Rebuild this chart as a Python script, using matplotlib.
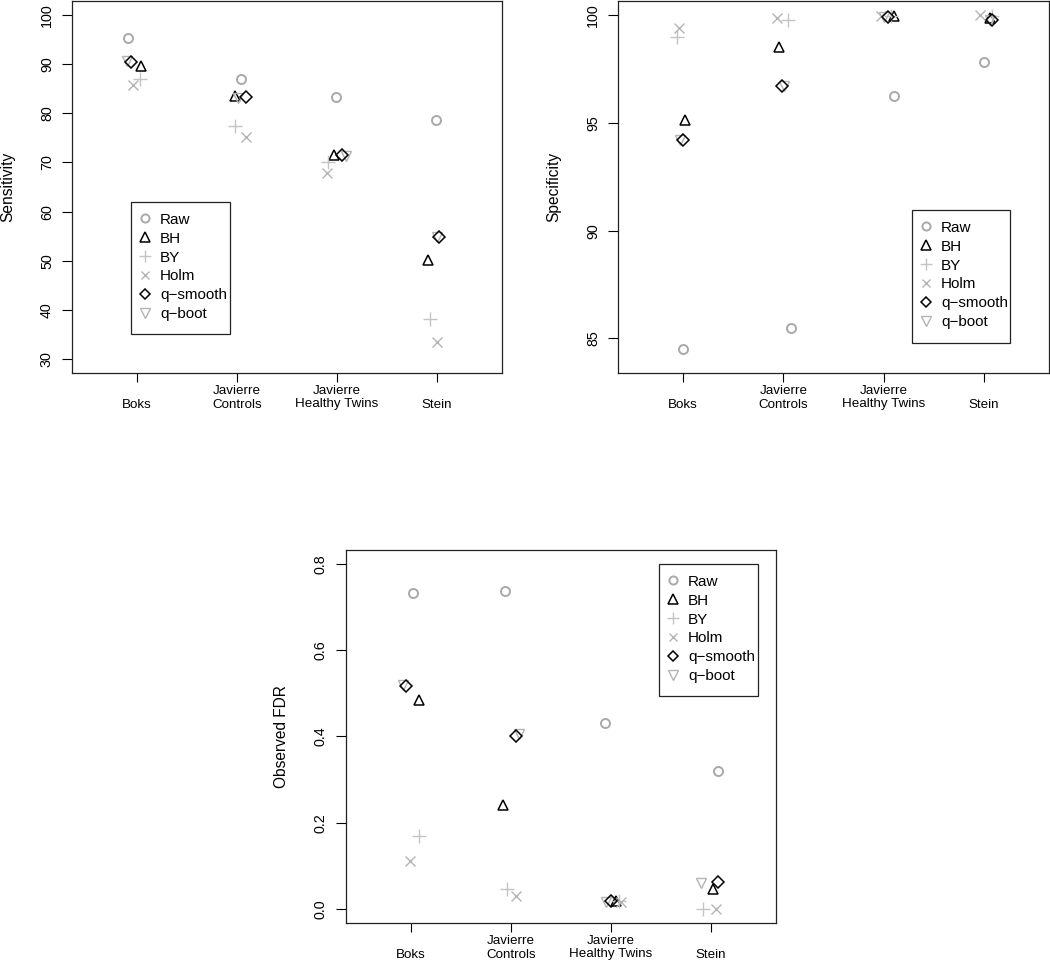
import numpy as np
import matplotlib
matplotlib.use('Agg')
import matplotlib.pyplot as plt
from matplotlib.patches import Rectangle

plt.rcParams['font.family'] = ['Liberation Sans', 'DejaVu Sans']

datasets = ['Boks', 'Javierre\nControls', 'Javierre\nHealthy Twins', 'Stein']
methods = ['Raw', 'BH', 'BY', 'Holm', 'q\u2212smooth', 'q\u2212boot']

# Sensitivity (%)
sens_raw = [95.3, 87.0, 83.3, 78.6]
sens_bh = [89.5, 83.5, 71.6, 50.2]
sens_by = [87.0, 77.4, 70.0, 38.1]
sens_holm = [85.7, 75.1, 67.9, 33.4]
sens_qsmooth = [90.5, 83.3, 71.5, 54.8]
sens_qboot = [90.7, 83.0, 71.3, 54.8]

# Specificity (%)
spec_raw = [84.51, 85.48, 96.26, 97.82]
spec_bh = [95.13, 98.50, 99.97, 99.88]
spec_by = [98.96, 99.78, 99.96, 99.95]
spec_holm = [99.38, 99.86, 99.94, 100.0]
spec_qsmooth = [94.22, 96.69, 99.93, 99.78]
spec_qboot = [94.22, 96.70, 99.93, 99.75]

# Observed FDR
fdr_raw = [0.733, 0.738, 0.431, 0.320]
fdr_bh = [0.484, 0.241, 0.019, 0.047]
fdr_by = [0.170, 0.046, 0.018, 0.000]
fdr_holm = [0.112, 0.031, 0.017, 0.000]
fdr_qsmooth = [0.517, 0.401, 0.018, 0.062]
fdr_qboot = [0.520, 0.405, 0.017, 0.060]

# horizontal jitter of the points (order: Raw, BH, BY, Holm, q-smooth, q-boot)
sens_jitter = [[-0.09, 0.04, -0.01, -0.01], [0.04, -0.02, -0.03, -0.09],
               [0.03, -0.02, -0.09, -0.07], [-0.04, 0.09, -0.10, 0.00],
               [-0.06, 0.09, 0.05, 0.02], [-0.10, 0.01, 0.09, 0.00]]
spec_jitter = [[0.00, 0.08, 0.10, 0.00], [0.02, -0.04, 0.10, 0.06],
               [-0.06, 0.05, 0.07, 0.08], [-0.04, -0.06, -0.03, -0.04],
               [0.00, -0.01, 0.04, 0.08], [-0.03, 0.01, 0.00, 0.06]]
fdr_jitter = [[0.02, -0.06, -0.06, 0.07], [0.08, -0.08, 0.05, 0.02],
              [0.08, -0.04, 0.08, -0.08], [-0.01, 0.05, 0.10, 0.05],
              [-0.05, 0.05, 0.00, 0.07], [-0.08, 0.08, -0.05, -0.10]]

# marker styles for each method
styles = [
    dict(marker='o', color='#a9a9a9', ms=6.5, mew=1.4, mfc='none'),
    dict(marker='^', color='black', ms=7.5, mew=1.1, mfc='none'),
    dict(marker='+', color='#c4c4c4', ms=9.5, mew=1.0),
    dict(marker='x', color='#b4b4b4', ms=7, mew=1.0),
    dict(marker='D', color='black', ms=6, mew=1.1, mfc='none'),
    dict(marker='v', color='#b4b4b4', ms=7.5, mew=1.0, mfc='none'),
]
draw_order = [0, 1, 2, 3, 5, 4]  # q-boot under q-smooth

x = np.arange(1, 5)


def panel(ax, series, jitter, ylim, yticks, ylabel, box_px, yfmt=None):
    # box_px: legend box (left, top, width, height) in pixels from the axes' top-left corner
    handles = [None] * 6
    for i in draw_order:
        h, = ax.plot(x + np.array(jitter[i]), series[i], ls='none', **styles[i])
        handles[i] = h
    ax.set_xlim(0.35, 4.65)
    ax.set_ylim(*ylim)
    ax.set_xticks(x)
    ax.set_xticklabels(datasets, fontsize=9.6)
    for lab in ax.get_xticklabels():
        lab.set_verticalalignment('bottom')
    ax.tick_params(axis='x', length=6.5, pad=20.5, width=0.8)
    ax.set_yticks(yticks)
    if yfmt:
        ax.set_yticklabels([yfmt.format(v) for v in yticks])
    ax.tick_params(axis='y', length=7, pad=6, width=0.8, labelsize=10.3)
    for lab in ax.get_yticklabels():
        lab.set_rotation(90)
        lab.set_verticalalignment('center')
    ax.set_ylabel(ylabel, fontsize=11.2)
    ax.yaxis.set_label_coords(-57 / 430, 0.5)
    for s in ax.spines.values():
        s.set_linewidth(0.9)
        s.set_color('#222222')

    # legend: frame drawn by hand, entries placed inside it
    bb = ax.get_position()
    w_px = bb.width * 1050
    h_px = bb.height * 960
    l, t, w, h = box_px
    ax.add_patch(Rectangle((l / w_px, 1 - (t + h) / h_px), w / w_px, h / h_px,
                           transform=ax.transAxes, fill=False, lw=0.9,
                           ec='#222222', zorder=5))
    ax.legend(handles, methods, loc='upper left',
              bbox_to_anchor=(l / w_px, 1 - (t + 6) / h_px),
              fontsize=11, frameon=False, borderpad=0.31,
              handlelength=1.2, handletextpad=0.4, labelspacing=0.32,
              borderaxespad=0, markerscale=0.9)


fig = plt.figure(figsize=(10.5, 9.6), dpi=100)
ax1 = fig.add_axes([72 / 1050, 1 - 373 / 960, 430 / 1050, 372 / 960])
ax2 = fig.add_axes([618 / 1050, 1 - 373 / 960, 431 / 1050, 372 / 960])
ax3 = fig.add_axes([346 / 1050, 1 - 923 / 960, 430 / 1050, 373 / 960])

panel(ax1, [sens_raw, sens_bh, sens_by, sens_holm, sens_qsmooth, sens_qboot], sens_jitter,
      (27.2, 102.8), [30, 40, 50, 60, 70, 80, 90, 100], 'Sensitivity', (59, 201, 99, 132))
panel(ax2, [spec_raw, spec_bh, spec_by, spec_holm, spec_qsmooth, spec_qboot], spec_jitter,
      (83.4, 100.65), [85, 90, 95, 100], 'Specificity', (294, 209, 98, 133))
panel(ax3, [fdr_raw, fdr_bh, fdr_by, fdr_holm, fdr_qsmooth, fdr_qboot], fdr_jitter,
      (-0.032, 0.832), [0.0, 0.2, 0.4, 0.6, 0.8], 'Observed FDR', (313, 14, 99, 132),
      yfmt='{:.1f}')

fig.savefig('out.png', dpi=100)
plt.close(fig)
